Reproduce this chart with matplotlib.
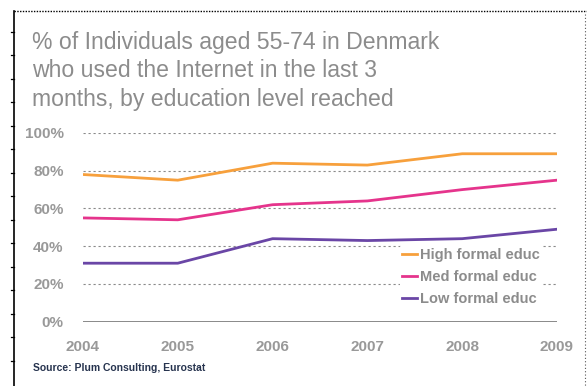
import matplotlib
matplotlib.use("Agg")
import matplotlib.pyplot as plt
from matplotlib.lines import Line2D

# Data
years = [2004, 2005, 2006, 2007, 2008, 2009]
high_educ = [78, 75, 84, 83, 89, 89]
med_educ = [55, 54, 62, 64, 70, 75]
low_educ = [31, 31, 44, 43, 44, 49]
series_labels = ["High formal educ", "Med formal educ", "Low formal educ"]
series_colors = ["#F7A03C", "#E5348C", "#6A46A6"]
y_ticks = [0, 20, 40, 60, 80, 100]
y_tick_labels = ["0%", "20%", "40%", "60%", "80%", "100%"]

title = "% of Individuals aged 55-74 in Denmark\nwho used the Internet in the last 3\nmonths, by education level reached"
source = "Source: Plum Consulting, Eurostat"

W, H = 587, 386
fig = plt.figure(figsize=(W / 100, H / 100), dpi=100)
fig.patch.set_facecolor("white")

def fx(px):
    return px / W

def fy(py):
    return 1 - py / H

# Page frame: solid left rule with small ticks, dotted top and right rules
fig.add_artist(Line2D([fx(14), fx(14)], [fy(11), fy(386)], color="black", lw=1.2))
tick_y = [31.8 + 23.5 * k for k in range(15) if 31.8 + 23.5 * k < 386]
for ty in tick_y:
    fig.add_artist(Line2D([fx(11), fx(14)], [fy(ty), fy(ty)], color="black", lw=0.9))
fig.add_artist(Line2D([fx(14), fx(587)], [fy(11), fy(11)], color="black", lw=1.0,
                      linestyle=(0, (1, 1))))
fig.add_artist(Line2D([fx(585), fx(585)], [fy(14), fy(386)], color="#555555", lw=0.8,
                      linestyle=(0, (1, 2))))

# Title
fig.text(fx(32), fy(31), title, ha="left", va="top", color="#8C8C8C",
         fontsize=16.6, family="Liberation Sans", linespacing=1.3)

# Plot area
ax = fig.add_axes([fx(83), fy(321.7), fx(557) - fx(83), fy(133) - fy(321.7)])
ax.set_xlim(years[0], years[-1])
ax.set_ylim(0, 100)
for s in ax.spines.values():
    s.set_visible(False)
ax.patch.set_alpha(0)

for yv in y_ticks[1:]:
    ax.axhline(yv, color="#8A8A8A", lw=0.8, linestyle=(0, (2, 2.5)), zorder=1)
ax.axhline(0, color="#7F7F7F", lw=2.0, zorder=2)

for vals, lab, col in zip([high_educ, med_educ, low_educ], series_labels, series_colors):
    ax.plot(years, vals, color=col, lw=2.0, label=lab, zorder=3)

ax.set_xticks(years)
ax.set_xticklabels([str(y) for y in years])
ax.set_yticks(y_ticks)
ax.set_yticklabels(y_tick_labels)
ax.tick_params(length=0, colors="#999999", labelsize=11)
ax.tick_params(axis="y", pad=14)
ax.tick_params(axis="x", pad=13)
for lbl in ax.get_xticklabels() + ax.get_yticklabels():
    lbl.set_fontweight("bold")
    lbl.set_family("Liberation Sans")

leg = ax.legend(loc="lower right", bbox_to_anchor=(0.985, 0.03), frameon=True,
                facecolor="white", edgecolor="none", framealpha=1,
                handlelength=1.0, handletextpad=0.2, labelspacing=0.55,
                borderpad=0.2, prop={"family": "Liberation Sans", "weight": "bold", "size": 10.5})
for t in leg.get_texts():
    t.set_color("#8C8C8C")

# Source note
fig.text(fx(33), fy(368), source, ha="left", va="center", color="#27344F",
         fontsize=7.5, fontweight="bold", family="Liberation Sans")

fig.savefig("out.png", dpi=100)
